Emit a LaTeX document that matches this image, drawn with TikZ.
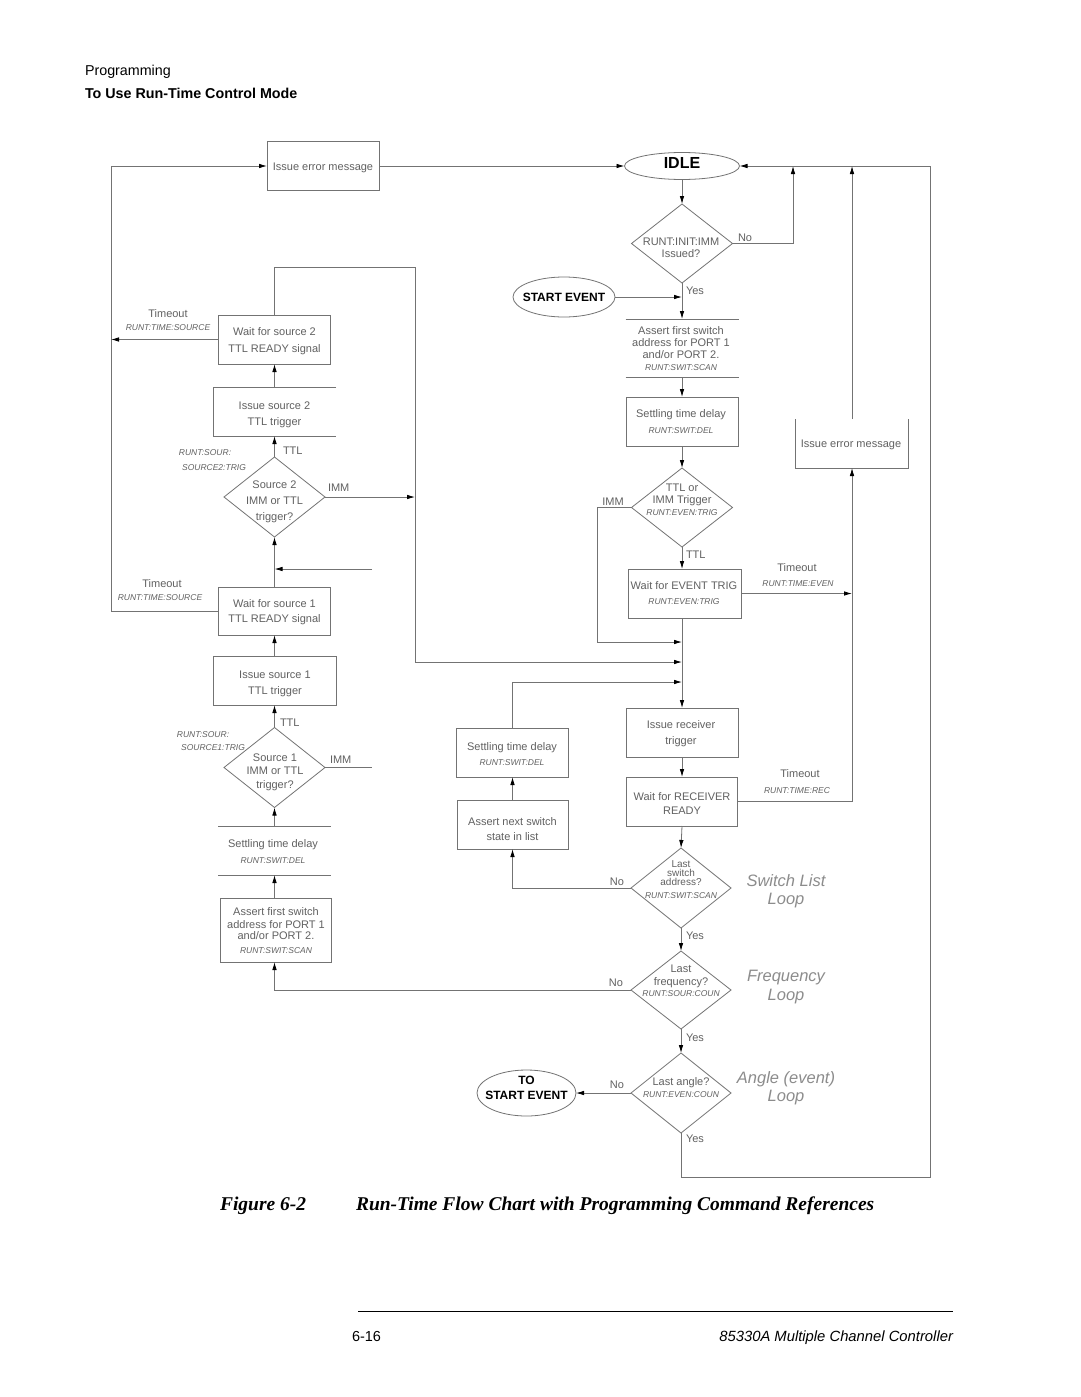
\documentclass[tikz,border=0pt]{standalone}
\usepackage{fontspec}
\setmainfont{Liberation Sans}
\newfontfamily\capfont{Liberation Serif}
\usetikzlibrary{shapes.geometric,arrows.meta}
\definecolor{lnc}{gray}{0.45}
\definecolor{txc}{gray}{0.38}
\definecolor{lpc}{gray}{0.55}
\tikzset{
  every node/.style={inner sep=0pt,outer sep=0pt},
  wire/.style={draw=lnc,line width=0.8pt},
  arr/.style={wire,-{Latex[length=8pt,width=4.5pt,color=black]}},
  boxs/.style={draw=lnc,line width=0.8pt,rectangle},
  openbox/.style={rectangle},
  dia/.style={diamond,draw=lnc,line width=0.8pt},
  ell/.style={ellipse,draw=lnc,line width=0.8pt},
  txs/.style={text=txc,font=\fontsize{11}{13}\selectfont,text height=8pt,text depth=0pt},
  sms/.style={text=txc,font=\fontsize{10}{12}\selectfont,text height=7pt,text depth=0pt},
  cms/.style={text=txc,font=\fontsize{8.5}{10}\selectfont\itshape,text height=6pt,text depth=0pt},
  lps/.style={text=lpc,font=\fontsize{16.5}{18}\selectfont\itshape,text height=12pt,text depth=0pt},
  bds/.style={text=black,font=\fontsize{12}{14}\selectfont\bfseries,text height=9pt,text depth=0pt},
}
\newcommand\putlbl[5][txs]{\node[#1] (#2) at (#3,#4) {#5};}
\begin{document}
\begin{tikzpicture}[x=1pt,y=-1pt]
\fill[white] (0,0) rectangle (1080,1397);
\useasboundingbox (0,0) rectangle (1080,1397);

% ---------- header, caption, footer ----------
\node[anchor=base west,font=\fontsize{14.3}{16}\selectfont] (h1) at (85,75) {Programming};
\node[anchor=base west,font=\fontsize{14.3}{16}\selectfont\bfseries] (h2) at (85,99) {To Use Run-Time Control Mode};
\node[anchor=base west,font=\capfont\bfseries\itshape\fontsize{19.5}{22}\selectfont] (cap1) at (220,1210.5) {Figure 6-2};
\node[anchor=base west,font=\capfont\bfseries\itshape\fontsize{19.5}{22}\selectfont] (cap2) at (356,1210.5) {Run-Time Flow Chart with Programming Command References};
\coordinate (fl) at (358,1311);
\coordinate (fr) at (953,1311);
\draw[line width=1pt] (fl) -- (fr);
\node[anchor=base west,font=\fontsize{14.5}{16}\selectfont] (f1) at (352,1341) {6-16};
\node[anchor=base east,font=\fontsize{14.8}{16}\selectfont\itshape] (f2) at (953,1341) {85330A Multiple Channel Controller};

% ---------- left column ----------
\node[boxs,minimum width=112,minimum height=49] (err1) at (323,166) {};
\node[boxs,minimum width=112,minimum height=49] (ws2) at (274.5,339.5) {};
\node[openbox,minimum width=123,minimum height=49] (is2) at (274.5,411.5) {};
\draw[wire] (is2.north east) -- (is2.north west) -- (is2.south west) -- (is2.south east);
\node[dia,minimum width=101,minimum height=80] (d2) at (274.5,497) {};
\node[boxs,minimum width=112,minimum height=48] (ws1) at (274.5,611) {};
\node[boxs,minimum width=123,minimum height=49] (is1) at (274.5,680.5) {};
\node[dia,minimum width=101,minimum height=80] (d1) at (274.5,767.5) {};
\node[openbox,minimum width=113,minimum height=49] (sd1) at (274.5,850.5) {};
\draw[wire] (sd1.north west) -- (sd1.north east);
\draw[wire] (sd1.south west) -- (sd1.south east);
\node[boxs,minimum width=111,minimum height=64] (af1) at (276,930) {};

% ---------- middle column ----------
\node[ell,minimum width=115,minimum height=27] (idle) at (682,166) {};
\node[dia,minimum width=101,minimum height=79] (dI) at (682,243.5) {};
\node[ell,minimum width=102,minimum height=40] (start) at (564,297) {};
\node[openbox,minimum width=113,minimum height=58] (af2) at (682,348) {};
\draw[wire] (af2.north west) -- (af2.north east);
\draw[wire] (af2.south west) -- (af2.south east);
\node[boxs,minimum width=112,minimum height=49] (sd2) at (682,421.5) {};
\node[dia,minimum width=101,minimum height=79] (dT) at (682,507.5) {};
\node[boxs,minimum width=113,minimum height=49] (we) at (684.5,593.5) {};
\node[boxs,minimum width=112,minimum height=49] (ir) at (682,732.5) {};
\node[boxs,minimum width=111,minimum height=49] (wr) at (682,801.5) {};
\node[dia,minimum width=100,minimum height=80] (dS) at (681,888) {};
\node[dia,minimum width=100,minimum height=78] (dF) at (681,990) {};
\node[dia,minimum width=100,minimum height=80] (dA) at (681,1093) {};
\node[ell,minimum width=99,minimum height=46] (toS) at (526.5,1093) {};
\node[boxs,minimum width=112,minimum height=49] (sd3) at (512.5,752.5) {};
\node[boxs,minimum width=111,minimum height=49] (an) at (512.5,824.5) {};

% ---------- right column ----------
\node[openbox,minimum width=113,minimum height=49] (err2) at (852,443.5) {};
\draw[wire] (err2.north west) -- (err2.south west) -- (err2.south east) -- (err2.north east);

% ---------- junction coordinates ----------
\coordinate (lx) at (111,0);
\coordinate (rx) at (415,267);
\coordinate (st1) at (372,569);
\coordinate (m1) at (682,642);
\coordinate (m2) at (682,662);
\coordinate (m3) at (682,682);
\coordinate (imx) at (597,642);
\coordinate (nx) at (793,166);
\coordinate (tr) at (930,166);
\coordinate (br) at (930,1177);
\coordinate (rvx) at (852,0);

% ---------- connectors ----------
\draw[arr] (err1.east) -- (idle.west);
\draw[arr] (ws1.west) -- (ws1.west -| lx) -- (err1.west -| lx) -- (err1.west);
\draw[arr] (ws2.west) -- (ws2.west -| lx);
\draw[arr] (ws2.north) |- (rx) -- (rx |- m2) -- (m2);
\draw[arr] (is2.north) -- (ws2.south);
\draw[arr] (d2.north) -- (is2.south);
\draw[arr] (d2.east) -- (d2.east -| rx);
\draw[arr] (ws1.north) -- (d2.south);
\draw[arr] (st1) -- (st1 -| ws1.north);
\draw[arr] (is1.north) -- (ws1.south);
\draw[arr] (d1.north) -- (is1.south);
\draw[wire] (d1.east) -- (d1.east -| st1);
\draw[arr] (sd1.north) -- (d1.south);
\draw[arr] (af1.north -| sd1.south) -- (sd1.south);
\draw[arr] (dF.west) -| (af1.south -| sd1.south);
\draw[arr] (idle.south) -- (dI.north);
\draw[arr] (dI.east) -| (nx);
\draw[arr] (dA.south) |- (br) -- (tr) -- (idle.east);
\draw[arr] (err2.north) -- (err2.north |- tr);
\draw[arr] (start.east) -- (start.east -| dI.south);
\draw[arr] (dI.south) -- (af2.north);
\draw[arr] (af2.south) -- (sd2.north);
\draw[arr] (sd2.south) -- (dT.north);
\draw[arr] (dT.west) -| (imx) -- (m1);
\draw[arr] (dT.south) -- (dT.south |- we.north);
\draw[arr] (we.south -| m1) -- (ir.north);
\draw[arr] (we.east) -- (we.east -| rvx);
\draw[arr] (ir.south) -- (wr.north);
\draw[arr] (wr.east) -| (err2.south);
\draw[arr] (wr.south) -- (dS.north);
\draw[arr] (dS.west) -| (an.south);
\draw[arr] (an.north) -- (sd3.south);
\draw[arr] (sd3.north) |- (m3);
\draw[arr] (dS.south) -- (dF.north);
\draw[arr] (dF.south) -- (dA.north);
\draw[arr] (dA.west) -- (toS.east);

% ---------- texts: left column ----------
\putlbl{t1}{323}{166}{Issue error message}
\putlbl{t2}{274.5}{331.5}{Wait for source 2}
\putlbl{t3}{274.5}{348}{TTL READY signal}
\putlbl{t4}{168}{313}{Timeout}
\putlbl[cms]{t5}{168}{327}{RUNT:TIME:SOURCE}
\putlbl{t6}{274.5}{405}{Issue source 2}
\putlbl{t7}{274.5}{421}{TTL trigger}
\putlbl[txs,anchor=west]{t8}{283}{450}{TTL}
\putlbl[cms]{t9}{205}{452}{RUNT:SOUR:}
\putlbl[cms]{t10}{214}{467}{SOURCE2:TRIG}
\putlbl{t11}{274.5}{484}{Source 2}
\putlbl{t12}{274.5}{500}{IMM or TTL}
\putlbl{t13}{274.5}{516}{trigger?}
\putlbl[txs,anchor=west]{t14}{328}{487}{IMM}
\putlbl{t15}{274.5}{603}{Wait for source 1}
\putlbl{t16}{274.5}{618}{TTL READY signal}
\putlbl{t17}{162}{583}{Timeout}
\putlbl[cms]{t18}{160}{597}{RUNT:TIME:SOURCE}
\putlbl{t19}{275}{674}{Issue source 1}
\putlbl{t20}{275}{690}{TTL trigger}
\putlbl[txs,anchor=west]{t21}{280}{722}{TTL}
\putlbl[cms]{t22}{203}{734}{RUNT:SOUR:}
\putlbl[cms]{t23}{213}{747}{SOURCE1:TRIG}
\putlbl{t24}{275}{757.7}{Source 1}
\putlbl{t25}{275}{770.7}{IMM or TTL}
\putlbl{t26}{275}{784}{trigger?}
\putlbl[txs,anchor=west]{t27}{330}{759}{IMM}
\putlbl{t28}{273}{843}{Settling time delay}
\putlbl[cms]{t29}{273}{860}{RUNT:SWIT:DEL}
\putlbl{t30}{276}{911.7}{Assert first switch}
\putlbl{t31}{276}{924}{address for PORT 1}
\putlbl{t32}{276}{935.7}{and/or PORT 2.}
\putlbl[cms]{t33}{276}{950.7}{RUNT:SWIT:SCAN}

% ---------- texts: middle column ----------
\putlbl[bds,font=\fontsize{16}{18}\selectfont\bfseries,text height=11pt]{t34}{682}{163}{IDLE}
\putlbl{t35}{681}{241.7}{RUNT:INIT:IMM}
\putlbl{t36}{681}{253.5}{Issued?}
\putlbl[txs,anchor=west]{t37}{738}{237}{No}
\putlbl[txs,anchor=west]{t38}{686}{290}{Yes}
\putlbl[bds]{t39}{564}{297}{START EVENT}
\putlbl{t40}{681}{330}{Assert first switch}
\putlbl{t41}{681}{342.7}{address for PORT 1}
\putlbl{t42}{681}{354}{and/or PORT 2.}
\putlbl[cms]{t43}{681}{367}{RUNT:SWIT:SCAN}
\putlbl{t44}{681}{413}{Settling time delay}
\putlbl[cms]{t45}{681}{430}{RUNT:SWIT:DEL}
\putlbl{t46}{682}{487}{TTL or}
\putlbl{t47}{682}{499.5}{IMM Trigger}
\putlbl[cms]{t48}{682}{512}{RUNT:EVEN:TRIG}
\putlbl{t49}{613}{501}{IMM}
\putlbl[txs,anchor=west]{t50}{686}{554}{TTL}
\putlbl{t51}{684}{585}{Wait for EVENT TRIG}
\putlbl[cms]{t52}{684}{601}{RUNT:EVEN:TRIG}
\putlbl{t53}{797}{567}{Timeout}
\putlbl[cms]{t54}{798}{583}{RUNT:TIME:EVEN}
\putlbl{t55}{681}{724}{Issue receiver}
\putlbl{t56}{681}{740}{trigger}
\putlbl{t57}{682}{796}{Wait for RECEIVER}
\putlbl{t58}{682}{810}{READY}
\putlbl{t59}{800}{773}{Timeout}
\putlbl[cms]{t60}{797}{790}{RUNT:TIME:REC}
\putlbl{t61}{512}{746}{Settling time delay}
\putlbl[cms]{t62}{512}{762.7}{RUNT:SWIT:DEL}
\putlbl{t63}{512.5}{821.7}{Assert next switch}
\putlbl{t64}{512.5}{836}{state in list}
\putlbl[sms]{t65}{681}{864}{Last}
\putlbl[sms]{t66}{681}{873}{switch}
\putlbl[sms]{t67}{681}{882}{address?}
\putlbl[cms]{t68}{681}{895.7}{RUNT:SWIT:SCAN}
\putlbl{t69}{617}{881}{No}
\putlbl[lps]{t70}{786}{880}{Switch List}
\putlbl[lps]{t71}{786}{898}{Loop}
\putlbl[txs,anchor=west]{t72}{686}{935}{Yes}
\putlbl{t73}{681}{968}{Last}
\putlbl{t74}{681}{981.7}{frequency?}
\putlbl[cms]{t75}{681}{993}{RUNT:SOUR:COUN}
\putlbl{t76}{616}{982}{No}
\putlbl[lps]{t77}{786}{975}{Frequency}
\putlbl[lps]{t78}{786}{994}{Loop}
\putlbl[txs,anchor=west]{t79}{686}{1037}{Yes}
\putlbl{t80}{681}{1081.7}{Last angle?}
\putlbl[cms]{t81}{681}{1094.3}{RUNT:EVEN:COUN}
\putlbl{t82}{617}{1084}{No}
\putlbl[bds]{t83}{526.5}{1080}{TO}
\putlbl[bds]{t84}{526.5}{1095}{START EVENT}
\putlbl[lps]{t85}{786}{1077}{Angle (event)}
\putlbl[lps]{t86}{786}{1095}{Loop}
\putlbl[txs,anchor=west]{t87}{686}{1138}{Yes}

% ---------- texts: right column ----------
\putlbl{t88}{851}{443}{Issue error message}
\end{tikzpicture}
\end{document}
